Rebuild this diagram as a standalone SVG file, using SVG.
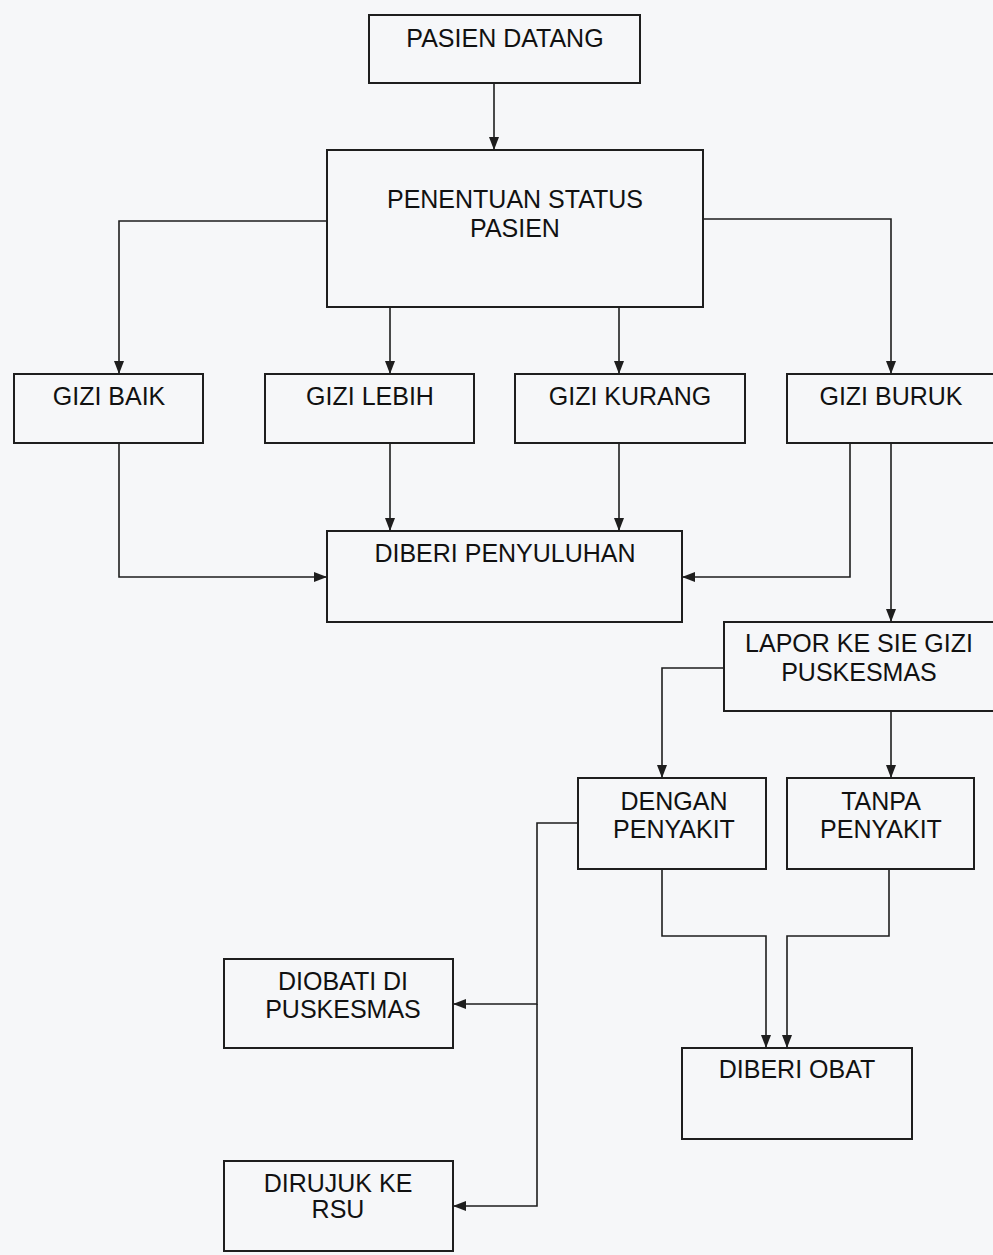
<svg xmlns="http://www.w3.org/2000/svg" width="993" height="1255" viewBox="0 0 993 1255">
  <defs>
    <style>
      .box { fill: none; stroke: #1e1e1e; stroke-width: 2; }
      .lbl { font-family: "Liberation Sans", Arial, sans-serif; font-size: 25px; fill: #111111; text-anchor: middle; }
      .edge { fill: none; stroke: #1e1e1e; stroke-width: 1.6; }
    </style>
    <marker id="arr" viewBox="0 0 13 10" refX="13" refY="5" markerWidth="13" markerHeight="10" markerUnits="userSpaceOnUse" orient="auto">
      <path d="M0,0 L13,5 L0,10 Z" fill="#1e1e1e"/>
    </marker>
  </defs>
  <rect width="993" height="1255" fill="#f6f7f9"/>

  <g id="connectors">
    <path class="edge" d="M494,83 V150" marker-end="url(#arr)"/>
    <path class="edge" d="M327,221 H119 V374" marker-end="url(#arr)"/>
    <path class="edge" d="M390,307 V374" marker-end="url(#arr)"/>
    <path class="edge" d="M619,307 V374" marker-end="url(#arr)"/>
    <path class="edge" d="M703,219 H891 V374" marker-end="url(#arr)"/>
    <path class="edge" d="M119,443 V577 H327" marker-end="url(#arr)"/>
    <path class="edge" d="M390,443 V531" marker-end="url(#arr)"/>
    <path class="edge" d="M619,443 V531" marker-end="url(#arr)"/>
    <path class="edge" d="M850,443 V577 H682" marker-end="url(#arr)"/>
    <path class="edge" d="M891,443 V622" marker-end="url(#arr)"/>
    <path class="edge" d="M724,668 H662 V778" marker-end="url(#arr)"/>
    <path class="edge" d="M891,711 V778" marker-end="url(#arr)"/>
    <path class="edge" d="M578,823 H537 V1004 H453" marker-end="url(#arr)"/>
    <path class="edge" d="M537,1004 V1206 H453" marker-end="url(#arr)"/>
    <path class="edge" d="M662,869 V936 H766 V1048" marker-end="url(#arr)"/>
    <path class="edge" d="M889,869 V936 H787 V1048" marker-end="url(#arr)"/>
  </g>

  <g id="pasien-datang">
    <rect class="box" x="369" y="15" width="271" height="68"/>
    <text class="lbl" x="505" y="47">PASIEN DATANG</text>
  </g>
  <g id="penentuan-status">
    <rect class="box" x="327" y="150" width="376" height="157"/>
    <text class="lbl" x="515" y="208">PENENTUAN STATUS</text>
    <text class="lbl" x="515" y="237">PASIEN</text>
  </g>
  <g id="gizi-baik">
    <rect class="box" x="14" y="374" width="189" height="69"/>
    <text class="lbl" x="109" y="405">GIZI BAIK</text>
  </g>
  <g id="gizi-lebih">
    <rect class="box" x="265" y="374" width="209" height="69"/>
    <text class="lbl" x="370" y="405">GIZI LEBIH</text>
  </g>
  <g id="gizi-kurang">
    <rect class="box" x="515" y="374" width="230" height="69"/>
    <text class="lbl" x="630" y="405">GIZI KURANG</text>
  </g>
  <g id="gizi-buruk">
    <rect class="box" x="787" y="374" width="220" height="69"/>
    <text class="lbl" x="891" y="405">GIZI BURUK</text>
  </g>
  <g id="diberi-penyuluhan">
    <rect class="box" x="327" y="531" width="355" height="91"/>
    <text class="lbl" x="505" y="562">DIBERI PENYULUHAN</text>
  </g>
  <g id="lapor">
    <rect class="box" x="724" y="622" width="283" height="89"/>
    <text class="lbl" x="859" y="652">LAPOR KE SIE GIZI</text>
    <text class="lbl" x="859" y="681">PUSKESMAS</text>
  </g>
  <g id="dengan-penyakit">
    <rect class="box" x="578" y="778" width="188" height="91"/>
    <text class="lbl" x="674" y="810">DENGAN</text>
    <text class="lbl" x="674" y="838">PENYAKIT</text>
  </g>
  <g id="tanpa-penyakit">
    <rect class="box" x="787" y="778" width="187" height="91"/>
    <text class="lbl" x="881" y="810">TANPA</text>
    <text class="lbl" x="881" y="838">PENYAKIT</text>
  </g>
  <g id="diobati">
    <rect class="box" x="224" y="959" width="229" height="89"/>
    <text class="lbl" x="343" y="990">DIOBATI DI</text>
    <text class="lbl" x="343" y="1018">PUSKESMAS</text>
  </g>
  <g id="diberi-obat">
    <rect class="box" x="682" y="1048" width="230" height="91"/>
    <text class="lbl" x="797" y="1078">DIBERI OBAT</text>
  </g>
  <g id="dirujuk">
    <rect class="box" x="224" y="1161" width="229" height="90"/>
    <text class="lbl" x="338" y="1192">DIRUJUK KE</text>
    <text class="lbl" x="338" y="1218">RSU</text>
  </g>
</svg>
